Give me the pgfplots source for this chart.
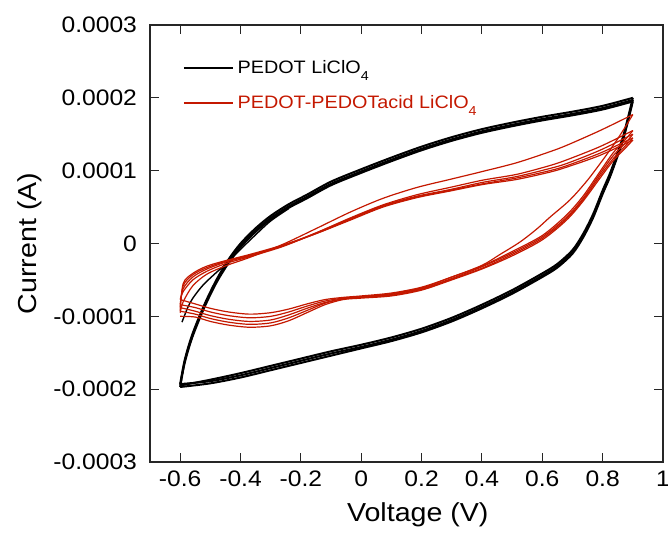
\documentclass[border=0pt]{standalone}
\usepackage{fontspec}
\setmainfont{Liberation Sans}[FakeStretch=1.1]
\usepackage{pgfplots}
\pgfplotsset{compat=1.18}
\definecolor{pred}{RGB}{196,24,0}
\begin{document}
\begin{tikzpicture}
\useasboundingbox (-75pt,-36.5pt) rectangle (259pt,231pt);
\begin{axis}[
  at={(0,0)}, anchor=south west,
  scale only axis, width=256.5pt, height=218.5pt,
  xmin=-0.7, xmax=1, ymin=-3e-4, ymax=3e-4,
  xtick={-0.6,-0.4,-0.2,0,0.2,0.4,0.6,0.8,1},
  xticklabels={-0.6,-0.4,-0.2,0,0.2,0.4,0.6,0.8,1},
  ytick={-3e-4,-2e-4,-1e-4,0,1e-4,2e-4,3e-4},
  yticklabels={-0.0003,-0.0002,-0.0001,0,0.0001,0.0002,0.0003},
  scaled y ticks=false, scaled x ticks=false,
  tick align=inside, major tick length=4.5pt,
  tick style={black!85, line width=0.5pt},
  axis line style={black!85, line width=0.7pt},
  ticklabel style={font=\fontsize{11.2}{13}\selectfont},
  yticklabel style={xshift=-3pt},
  xticklabel style={yshift=-1pt},
  xlabel={Voltage (V)}, ylabel={Current (A)},
  label style={font=\fontsize{13}{15}\selectfont},
  xlabel style={at={(axis description cs:0.522,-0.121)}, anchor=center},
  ylabel style={at={(axis description cs:-0.234,0.5)}, anchor=center},
  legend style={at={(axis description cs:0.064,0.93)}, anchor=north west,
    draw=none, fill=none, font=\fontsize{9}{11}\selectfont, row sep=5.5pt,
    inner sep=0pt, column sep=0pt},
  legend cell align=left,
  legend image code/.code={\draw[#1] (0pt,0pt) -- (24.5pt,0pt);},
  every axis plot/.append style={smooth, tension=0.5},
]
\addlegendimage{black, line width=0.7pt}
\addlegendentry{PEDOT LiClO\raisebox{-0.8ex}{\fontsize{6.5}{7}\selectfont 4}}
\addlegendimage{pred, line width=0.7pt}
\addlegendentry{\textcolor{pred}{PEDOT-PEDOTacid LiClO\raisebox{-0.8ex}{\fontsize{6.5}{7}\selectfont 4}}}

% ---------- PEDOT LiClO4 (black) ----------
% first sweep start (thin)
\addplot[black, line width=0.7pt, forget plot] coordinates {
(-0.594,-1.08e-4) (-0.575,-0.88e-4) (-0.558,-0.75e-4) (-0.524,-0.57e-4) (-0.478,-0.39e-4) (-0.445,-0.27e-4) (-0.40,-0.08e-4) (-0.35,0.12e-4) (-0.30,0.31e-4) (-0.24,0.48e-4)
};
% anodic sweeps
\addplot[black, line width=1pt, forget plot] coordinates {
(-0.6,-1.93e-4) (-0.585,-1.60e-4) (-0.56,-1.25e-4) (-0.52,-0.84e-4) (-0.48,-0.50e-4) (-0.44,-0.22e-4) (-0.40,0.00e-4) (-0.35,0.21e-4) (-0.30,0.38e-4) (-0.24,0.54e-4) (-0.18,0.67e-4) (-0.10,0.85e-4) (0.0,1.02e-4) (0.1,1.18e-4) (0.2,1.33e-4) (0.3,1.46e-4) (0.4,1.57e-4) (0.5,1.66e-4) (0.6,1.74e-4) (0.7,1.81e-4) (0.8,1.89e-4) (0.9,2.00e-4)
};
\addplot[black, line width=1pt, forget plot] coordinates {
(-0.6,-1.95e-4) (-0.585,-1.62e-4) (-0.56,-1.27e-4) (-0.52,-0.86e-4) (-0.48,-0.52e-4) (-0.44,-0.25e-4) (-0.40,-0.03e-4) (-0.35,0.18e-4) (-0.30,0.35e-4) (-0.24,0.51e-4) (-0.18,0.64e-4) (-0.10,0.82e-4) (0.0,0.99e-4) (0.1,1.15e-4) (0.2,1.30e-4) (0.3,1.43e-4) (0.4,1.54e-4) (0.5,1.63e-4) (0.6,1.71e-4) (0.7,1.78e-4) (0.8,1.86e-4) (0.9,1.97e-4)
};
\addplot[black, line width=1pt, forget plot] coordinates {
(-0.6,-1.97e-4) (-0.585,-1.64e-4) (-0.56,-1.29e-4) (-0.52,-0.88e-4) (-0.48,-0.54e-4) (-0.44,-0.27e-4) (-0.40,-0.05e-4) (-0.35,0.16e-4) (-0.30,0.33e-4) (-0.24,0.49e-4) (-0.18,0.62e-4) (-0.10,0.80e-4) (0.0,0.97e-4) (0.1,1.13e-4) (0.2,1.28e-4) (0.3,1.41e-4) (0.4,1.52e-4) (0.5,1.61e-4) (0.6,1.69e-4) (0.7,1.76e-4) (0.8,1.84e-4) (0.9,1.95e-4)
};
% cathodic sweeps
\addplot[black, line width=1pt, forget plot] coordinates {
(0.9,2.00e-4) (0.884,1.73e-4) (0.867,1.46e-4) (0.847,1.22e-4) (0.824,0.96e-4) (0.80,0.73e-4) (0.768,0.40e-4) (0.735,0.13e-4) (0.70,-0.09e-4) (0.65,-0.28e-4) (0.60,-0.41e-4) (0.5,-0.64e-4) (0.4,-0.84e-4) (0.3,-1.02e-4) (0.2,-1.17e-4) (0.1,-1.29e-4) (0.0,-1.39e-4) (-0.1,-1.48e-4) (-0.2,-1.58e-4) (-0.3,-1.68e-4) (-0.4,-1.78e-4) (-0.5,-1.87e-4) (-0.6,-1.95e-4)
};
\addplot[black, line width=1pt, forget plot] coordinates {
(0.9,1.97e-4) (0.884,1.70e-4) (0.867,1.43e-4) (0.847,1.19e-4) (0.824,0.93e-4) (0.80,0.70e-4) (0.768,0.37e-4) (0.735,0.10e-4) (0.70,-0.12e-4) (0.65,-0.31e-4) (0.60,-0.44e-4) (0.5,-0.67e-4) (0.4,-0.87e-4) (0.3,-1.05e-4) (0.2,-1.20e-4) (0.1,-1.32e-4) (0.0,-1.42e-4) (-0.1,-1.51e-4) (-0.2,-1.61e-4) (-0.3,-1.71e-4) (-0.4,-1.81e-4) (-0.5,-1.89e-4) (-0.6,-1.93e-4)
};
\addplot[black, line width=1pt, forget plot] coordinates {
(0.9,1.95e-4) (0.884,1.68e-4) (0.867,1.41e-4) (0.847,1.17e-4) (0.824,0.91e-4) (0.80,0.68e-4) (0.768,0.35e-4) (0.735,0.08e-4) (0.70,-0.14e-4) (0.65,-0.33e-4) (0.60,-0.46e-4) (0.5,-0.69e-4) (0.4,-0.89e-4) (0.3,-1.07e-4) (0.2,-1.22e-4) (0.1,-1.34e-4) (0.0,-1.44e-4) (-0.1,-1.54e-4) (-0.2,-1.64e-4) (-0.3,-1.74e-4) (-0.4,-1.84e-4) (-0.5,-1.92e-4) (-0.6,-1.97e-4)
};

% ---------- PEDOT-PEDOTacid LiClO4 (red) ----------
% anodic sweeps
\addplot[pred, line width=0.6pt, forget plot] coordinates {
(-0.6,-0.95e-4) (-0.59,-0.80e-4) (-0.558,-0.58e-4) (-0.511,-0.42e-4) (-0.445,-0.30e-4) (-0.369,-0.19e-4) (-0.259,-0.01e-4) (-0.147,0.21e-4) (-0.037,0.43e-4) (0.072,0.62e-4) (0.185,0.77e-4) (0.294,0.88e-4) (0.403,0.99e-4) (0.516,1.11e-4) (0.625,1.26e-4) (0.682,1.35e-4) (0.791,1.55e-4) (0.9,1.77e-4)
};
\addplot[pred, line width=0.6pt, forget plot] coordinates {
(-0.6,-0.77e-4) (-0.59,-0.66e-4) (-0.558,-0.50e-4) (-0.511,-0.38e-4) (-0.445,-0.27e-4) (-0.369,-0.18e-4) (-0.259,-0.04e-4) (-0.147,0.15e-4) (-0.037,0.35e-4) (0.072,0.53e-4) (0.185,0.67e-4) (0.294,0.77e-4) (0.403,0.87e-4) (0.516,0.95e-4) (0.625,1.07e-4) (0.682,1.15e-4) (0.791,1.33e-4) (0.9,1.55e-4)
};
\addplot[pred, line width=0.6pt, forget plot] coordinates {
(-0.6,-0.84e-4) (-0.59,-0.62e-4) (-0.558,-0.46e-4) (-0.511,-0.35e-4) (-0.445,-0.25e-4) (-0.369,-0.17e-4) (-0.259,-0.03e-4) (-0.147,0.15e-4) (-0.037,0.34e-4) (0.072,0.52e-4) (0.185,0.65e-4) (0.294,0.74e-4) (0.403,0.84e-4) (0.516,0.92e-4) (0.625,1.03e-4) (0.682,1.10e-4) (0.791,1.28e-4) (0.9,1.50e-4)
};
\addplot[pred, line width=0.6pt, forget plot] coordinates {
(-0.6,-0.88e-4) (-0.59,-0.58e-4) (-0.558,-0.43e-4) (-0.511,-0.33e-4) (-0.445,-0.24e-4) (-0.369,-0.16e-4) (-0.259,-0.03e-4) (-0.147,0.14e-4) (-0.037,0.33e-4) (0.072,0.51e-4) (0.185,0.64e-4) (0.294,0.73e-4) (0.403,0.82e-4) (0.516,0.90e-4) (0.625,1.00e-4) (0.682,1.07e-4) (0.791,1.24e-4) (0.9,1.45e-4)
};
\addplot[pred, line width=0.6pt, forget plot] coordinates {
(-0.6,-0.93e-4) (-0.59,-0.55e-4) (-0.558,-0.41e-4) (-0.511,-0.31e-4) (-0.445,-0.23e-4) (-0.369,-0.15e-4) (-0.259,-0.02e-4) (-0.147,0.14e-4) (-0.037,0.32e-4) (0.072,0.50e-4) (0.185,0.63e-4) (0.294,0.72e-4) (0.403,0.81e-4) (0.516,0.88e-4) (0.625,0.98e-4) (0.682,1.05e-4) (0.791,1.21e-4) (0.9,1.42e-4)
};
% cathodic sweeps
\addplot[pred, line width=0.6pt, forget plot] coordinates {
(0.9,1.77e-4) (0.875,1.60e-4) (0.847,1.42e-4) (0.82,1.26e-4) (0.801,1.15e-4) (0.75,0.87e-4) (0.692,0.60e-4) (0.625,0.36e-4) (0.582,0.20e-4) (0.526,0.02e-4) (0.46,-0.15e-4) (0.4,-0.30e-4) (0.3,-0.46e-4) (0.2,-0.60e-4) (0.1,-0.68e-4) (0.0,-0.72e-4) (-0.06,-0.74e-4) (-0.12,-0.77e-4) (-0.18,-0.83e-4) (-0.24,-0.90e-4) (-0.3,-0.95e-4) (-0.37,-0.97e-4) (-0.44,-0.94e-4) (-0.5,-0.89e-4) (-0.55,-0.83e-4) (-0.6,-0.77e-4)
};
\addplot[pred, line width=0.6pt, forget plot] coordinates {
(0.9,1.55e-4) (0.88,1.45e-4) (0.834,1.24e-4) (0.79,0.98e-4) (0.735,0.65e-4) (0.68,0.39e-4) (0.6,0.11e-4) (0.5,-0.11e-4) (0.4,-0.31e-4) (0.3,-0.46e-4) (0.2,-0.61e-4) (0.1,-0.69e-4) (0.0,-0.73e-4) (-0.06,-0.75e-4) (-0.12,-0.79e-4) (-0.18,-0.86e-4) (-0.24,-0.94e-4) (-0.3,-1.00e-4) (-0.37,-1.02e-4) (-0.44,-0.99e-4) (-0.5,-0.94e-4) (-0.55,-0.88e-4) (-0.6,-0.84e-4)
};
\addplot[pred, line width=0.6pt, forget plot] coordinates {
(0.9,1.50e-4) (0.88,1.40e-4) (0.834,1.20e-4) (0.79,0.95e-4) (0.735,0.62e-4) (0.68,0.36e-4) (0.6,0.09e-4) (0.5,-0.13e-4) (0.4,-0.32e-4) (0.3,-0.48e-4) (0.2,-0.62e-4) (0.1,-0.70e-4) (0.0,-0.74e-4) (-0.06,-0.76e-4) (-0.12,-0.81e-4) (-0.18,-0.89e-4) (-0.24,-0.98e-4) (-0.3,-1.05e-4) (-0.37,-1.07e-4) (-0.44,-1.04e-4) (-0.5,-0.99e-4) (-0.55,-0.93e-4) (-0.6,-0.88e-4)
};
\addplot[pred, line width=0.6pt, forget plot] coordinates {
(0.9,1.45e-4) (0.88,1.36e-4) (0.834,1.16e-4) (0.79,0.92e-4) (0.735,0.60e-4) (0.68,0.34e-4) (0.6,0.07e-4) (0.5,-0.15e-4) (0.4,-0.34e-4) (0.3,-0.49e-4) (0.2,-0.63e-4) (0.1,-0.71e-4) (0.0,-0.74e-4) (-0.06,-0.76e-4) (-0.12,-0.82e-4) (-0.18,-0.92e-4) (-0.24,-1.02e-4) (-0.3,-1.09e-4) (-0.37,-1.11e-4) (-0.44,-1.08e-4) (-0.5,-1.03e-4) (-0.55,-0.97e-4) (-0.6,-0.93e-4)
};
\addplot[pred, line width=0.6pt, forget plot] coordinates {
(0.9,1.42e-4) (0.88,1.33e-4) (0.834,1.13e-4) (0.79,0.89e-4) (0.735,0.58e-4) (0.68,0.32e-4) (0.6,0.05e-4) (0.5,-0.17e-4) (0.4,-0.35e-4) (0.3,-0.50e-4) (0.2,-0.64e-4) (0.1,-0.72e-4) (0.0,-0.75e-4) (-0.06,-0.77e-4) (-0.12,-0.84e-4) (-0.18,-0.95e-4) (-0.24,-1.06e-4) (-0.3,-1.13e-4) (-0.37,-1.15e-4) (-0.44,-1.12e-4) (-0.5,-1.07e-4) (-0.55,-1.01e-4) (-0.6,-1.00e-4)
};
\end{axis}
\end{tikzpicture}
\end{document}
